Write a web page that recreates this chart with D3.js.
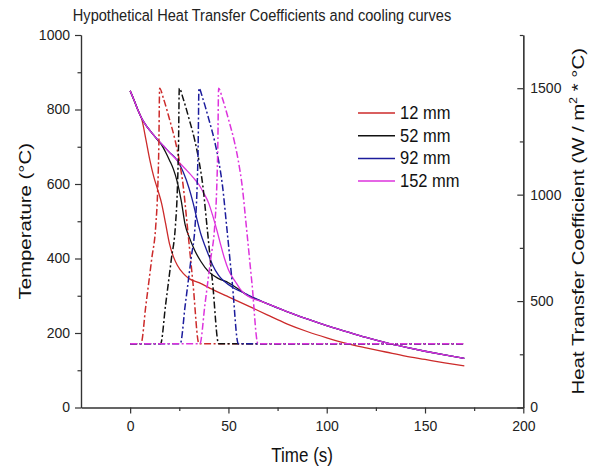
<!DOCTYPE html>
<html><head><meta charset="utf-8">
<script src="https://cdn.jsdelivr.net/npm/d3@7"></script>
<style>body{margin:0;background:#fff}svg{display:block;font-family:"Liberation Sans",Arial,sans-serif}</style>
</head><body><svg id="c" width="608" height="470"></svg>
<script>
// ---------- data ----------
const seriesNames = ["12 mm", "52 mm", "92 mm", "152 mm"];
const xTicks = [0, 50, 100, 150, 200];
const xMinor = [25, 75, 125, 175];
const tempTicks = [0, 200, 400, 600, 800, 1000];
const tempMinor = [100, 300, 500, 700, 900];
const htcTicks = [0, 500, 1000, 1500];
const htcMinor = [250, 750, 1250, 1750];

// cooling curves [time s, temperature °C]
const cool12 = [[0,850],[2,825],[4,798],[6,772],[8,720],[10,665],[12,620],[14,585],[16,548],[18,495],[20,440],[22,405],[24,382],[27,360],[30,346],[35,335],[40,322],[45,309],[50,297],[60,273],[70,248],[80,224],[90,204],[100,187],[110,172],[120,160],[130,149],[140,138],[150,129],[160,120],[170,112]];
const cool52 = [[0,850],[2,825],[4,798],[6,775],[8,758],[10,744],[12,731],[14,718],[16,705],[18,686],[20,664],[22,640],[24,605],[26,555],[28,490],[30,458],[33,420],[36,392],[40,364],[45,346],[50,335],[55,318],[60,300],[65,289],[70,278],[80,257],[90,238],[100,220],[110,204],[120,188],[130,174],[140,162],[150,151],[160,141],[170,132]];
const cool92 = [[0,850],[2,825],[4,798],[6,775],[8,758],[10,744],[12,731],[14,719],[17,702],[20,685],[24,663],[27,632],[30,588],[32,550],[34,505],[36,465],[38,435],[40,408],[42,382],[45,355],[48,338],[52,323],[56,312],[60,302],[65,290],[70,278],[80,257],[90,238],[100,220],[110,204],[120,188],[130,174],[140,162],[150,151],[160,141],[170,132]];
const cool152 = [[0,850],[2,825],[4,798],[6,775],[8,758],[10,744],[12,731],[14,719],[17,702],[20,685],[24,663],[28,641],[32,618],[35,598],[37,580],[40,548],[42,515],[44,478],[46,438],[48,400],[50,370],[52,350],[54,334],[56,318],[58,307],[60,299],[63,291],[66,286],[70,278],[80,257],[90,238],[100,220],[110,204],[120,188],[130,174],[140,162],[150,151],[160,141],[170,132]];

// heat transfer coefficients [time s, W/m²°C]
const htc12 = [[0,300],[5.5,300],[8,480],[11,700],[13,850],[14,1020],[14.6,1230],[15,1500],[17,1450],[20,1355],[23,1250],[25,1160],[27,1040],[29,860],[32,580],[35,300],[170,300]];
const htc52 = [[0,300],[15.5,300],[18,480],[21,700],[23,850],[24,1020],[24.6,1230],[25,1500],[27,1450],[30,1355],[33,1250],[35,1160],[37,1040],[39,860],[42,580],[45,300],[170,300]];
const htc92 = [[0,300],[25.5,300],[28,480],[31,700],[33,850],[34,1020],[34.6,1230],[35,1500],[37,1450],[40,1355],[43,1250],[45,1160],[47,1040],[49,860],[52,580],[55,300],[170,300]];
const htc152 = [[0,300],[35.5,300],[38,480],[41,700],[43,850],[44,1020],[44.6,1230],[45,1500],[47,1450],[50,1355],[53,1250],[55,1160],[57,1040],[59,860],[62,580],[65,300],[170,300]];

// ---------- styles ----------
const colors = ["#cc2a2a", "#111111", "#1c1c9c", "#dd33dd"];
const coolSeries = [cool12, cool52, cool92, cool152];
const htcSeries = [htc12, htc52, htc92, htc152];

const svg = d3.select("#c");
const L = 81, R = 523.3, T = 35, B = 407.5;
const x = d3.scaleLinear([-25, 200], [L, R]);
const yT = d3.scaleLinear([0, 1000], [B, T]);
const yH = d3.scaleLinear([0, 1750], [B, T]);
const fmt = d3.format("d");

const axisColor = "#333";
function styleAxis(g) {
  g.selectAll("path,line").attr("stroke", axisColor).attr("stroke-width", 1.2);
  g.selectAll("text").attr("fill", "#222").style("font-size", "14px").style("font-family", '"Liberation Sans",Arial,sans-serif');
}

// bottom axis
svg.append("g").attr("transform", `translate(0,${B})`)
  .call(d3.axisBottom(x).tickValues(xTicks).tickFormat(fmt).tickSize(6).tickSizeOuter(0).tickPadding(8))
  .call(styleAxis);
svg.append("g").attr("transform", `translate(0,${B})`)
  .call(d3.axisBottom(x).tickValues(xMinor).tickSize(3.5).tickSizeOuter(0).tickFormat(""))
  .call(styleAxis);
// left axis
svg.append("g").attr("transform", `translate(${L},0)`)
  .call(d3.axisLeft(yT).tickValues(tempTicks).tickFormat(fmt).tickSize(6).tickSizeOuter(0).tickPadding(5))
  .call(styleAxis);
svg.append("g").attr("transform", `translate(${L},0)`)
  .call(d3.axisLeft(yT).tickValues(tempMinor).tickSize(3.5).tickSizeOuter(0).tickFormat(""))
  .call(styleAxis);
// right axis (ticks pointing inward)
svg.append("g").attr("transform", `translate(${R},0)`)
  .call(d3.axisRight(yH).tickValues(htcTicks).tickFormat(fmt).tickSize(-6).tickSizeOuter(0).tickPadding(7))
  .call(styleAxis);
svg.append("g").attr("transform", `translate(${R},0)`)
  .call(d3.axisRight(yH).tickValues(htcMinor).tickSize(-3.5).tickSizeOuter(0).tickFormat(""))
  .call(styleAxis);

// curves
const lineT = d3.line().x(d => x(d[0])).y(d => yT(d[1])).curve(d3.curveMonotoneX);
const lineH = d3.line().x(d => x(d[0])).y(d => yH(d[1])).curve(d3.curveMonotoneX);

coolSeries.forEach((s, i) => {
  svg.append("path").attr("d", lineT(s)).attr("fill", "none")
    .attr("stroke", colors[i]).attr("stroke-width", 1.3);
});
htcSeries.forEach((s, i) => {
  svg.append("path").attr("d", lineH(s)).attr("fill", "none")
    .attr("stroke", colors[i]).attr("stroke-width", 1.5)
    .attr("stroke-dasharray", "7,2.5,2,2.5");
});

// legend
const lg = svg.append("g");
seriesNames.forEach((n, i) => {
  const yy = 113 + i * 22.7;
  lg.append("line").attr("x1", 358).attr("x2", 395).attr("y1", yy).attr("y2", yy)
    .attr("stroke", colors[i]).attr("stroke-width", 1.5);
  lg.append("text").attr("transform", `translate(400,${yy + 6}) scale(1,1.15)`)
    .style("font-size", "16.5px").attr("fill", "#111").text(n);
});

// titles
svg.append("text").attr("transform", "translate(262,21) scale(1,1.15)")
  .attr("text-anchor", "middle").style("font-size", "14.6px").attr("fill", "#222")
  .text("Hypothetical Heat Transfer Coefficients and cooling curves");
svg.append("text").attr("transform", `translate(${(L + R) / 2},462) scale(1,1.2)`)
  .attr("text-anchor", "middle").style("font-size", "17px").attr("fill", "#111")
  .text("Time (s)");
svg.append("text").attr("transform", `translate(31,${(T + B) / 2}) rotate(-90) scale(1.2,1)`)
  .attr("text-anchor", "middle").style("font-size", "17px").attr("fill", "#111")
  .text("Temperature (°C)");
const rt = svg.append("text").attr("transform", `translate(584,${(T + B) / 2}) rotate(-90) scale(1.2,1)`)
  .attr("text-anchor", "middle").style("font-size", "17px").attr("fill", "#111");
rt.append("tspan").text("Heat Transfer Coefficient (W / m");
rt.append("tspan").attr("dy", -7).style("font-size", "10px").text("2");
rt.append("tspan").attr("dy", 7).text(" * °C)");
</script></body></html>
